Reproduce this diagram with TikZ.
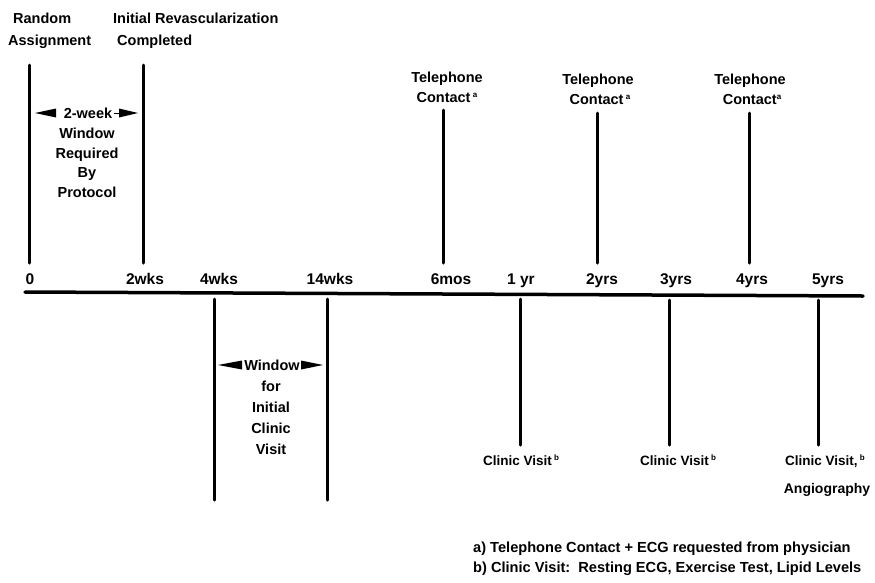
\documentclass[tikz,border=0pt]{standalone}
\usepackage{fontspec}
\setmainfont{Liberation Sans}
\usetikzlibrary{arrows.meta}
\newcommand{\sps}[1]{\raisebox{0.6ex}{\fontsize{8}{8}\selectfont #1}}
\begin{document}
\begin{tikzpicture}[x=1pt,y=-1pt,
  lbl/.style={font=\bfseries\fontsize{14.5}{16}\selectfont, inner sep=0pt, anchor=base},
  axlbl/.style={font=\bfseries\fontsize{15.5}{16}\selectfont, inner sep=0pt, anchor=base},
  cvlbl/.style={font=\bfseries\fontsize{13.5}{16}\selectfont, inner sep=0pt, anchor=base},
  foot/.style={font=\bfseries\fontsize{14.6}{16}\selectfont, inner sep=0pt, anchor=base west},
  tick/.style={line width=3pt, line cap=round},
  axisline/.style={line width=3.5pt, line cap=round},
  tri/.style={fill=black, draw=none}]
\useasboundingbox (0,0) rectangle (875,582);
% axis
\coordinate (axL) at (25,292);
\coordinate (axR) at (863,296);
\draw[axisline] (axL) -- (axR);
% upper ticks
\coordinate (r0t) at (29,65);  \coordinate (r0b) at (29,263);
\coordinate (r2t) at (143,65); \coordinate (r2b) at (143,263);
\coordinate (t6t) at (443,110); \coordinate (t6b) at (443,263);
\coordinate (t2t) at (597,113); \coordinate (t2b) at (597,263);
\coordinate (t4t) at (749,113); \coordinate (t4b) at (749,263);
\draw[tick] (r0t) -- (r0b);
\draw[tick] (r2t) -- (r2b);
\draw[tick] (t6t) -- (t6b);
\draw[tick] (t2t) -- (t2b);
\draw[tick] (t4t) -- (t4b);
% lower ticks
\coordinate (w4t) at (214,299); \coordinate (w4b) at (214,500);
\coordinate (w14t) at (327,299); \coordinate (w14b) at (327,500);
\coordinate (c1t) at (520,299); \coordinate (c1b) at (520,445);
\coordinate (c3t) at (669,300); \coordinate (c3b) at (669,445);
\coordinate (c5t) at (818,300); \coordinate (c5b) at (818,445);
\draw[tick] (w4t) -- (w4b);
\draw[tick] (w14t) -- (w14b);
\draw[tick] (c1t) -- (c1b);
\draw[tick] (c3t) -- (c3b);
\draw[tick] (c5t) -- (c5b);
% axis labels
\node[axlbl] (l0) at (30,284) {0};
\node[axlbl] (l2w) at (145,284) {2wks};
\node[axlbl] (l4w) at (219,284) {4wks};
\node[axlbl] (l14w) at (330,284) {14wks};
\node[axlbl] (l6m) at (451,284) {6mos};
\node[axlbl] (l1y) at (521,284) {1 yr};
\node[axlbl] (l2y) at (602,284) {2yrs};
\node[axlbl] (l3y) at (676,284) {3yrs};
\node[axlbl] (l4y) at (752,284) {4yrs};
\node[axlbl] (l5y) at (828,284) {5yrs};
% top labels
\node[lbl, anchor=base west] (ra1) at (13,23) {Random};
\node[lbl, anchor=base west] (ra2) at (8,45) {Assignment};
\node[lbl, anchor=base west] (ir1) at (113,23) {Initial Revascularization};
\node[lbl, anchor=base west] (ir2) at (117,45) {Completed};
% 2-week window
\node[lbl] (w1) at (88,118) {2-week};
\node[lbl] (w2) at (87,138) {Window};
\node[lbl] (w3) at (87,158) {Required};
\node[lbl] (w4) at (87,177) {By};
\node[lbl] (w5) at (87,197) {Protocol};
\fill[tri] (35,113) -- (56,108.5) -- (56,117.5) -- cycle;
\fill[tri] (138,113) -- (119,108.5) -- (119,117.5) -- cycle;
\draw[line width=0.8pt] (114,113.5) -- (120,113.5);
% telephone labels
\node[lbl] (tp1) at (447,82) {Telephone};
\node[lbl] (tc1) at (447,102) {Contact\,\sps{a}};
\node[lbl] (tp2) at (598,84) {Telephone};
\node[lbl] (tc2) at (600,104) {Contact\,\sps{a}};
\node[lbl] (tp3) at (750,84) {Telephone};
\node[lbl] (tc3) at (752,104) {Contact\sps{a}};
% window for initial clinic visit
\node[lbl] (v1) at (272,370) {Window};
\node[lbl] (v2) at (271,391) {for};
\node[lbl] (v3) at (271,412) {Initial};
\node[lbl] (v4) at (271,433) {Clinic};
\node[lbl] (v5) at (271,454) {Visit};
\fill[tri] (218,365) -- (242,360.5) -- (242,369.5) -- cycle;
\fill[tri] (323,365) -- (301,360.5) -- (301,369.5) -- cycle;
% clinic visits
\node[cvlbl] (cv1) at (521,465) {Clinic Visit\,\sps{b}};
\node[cvlbl] (cv3) at (678,465) {Clinic Visit\,\sps{b}};
\node[cvlbl, anchor=base west] (cv5) at (785,465) {Clinic Visit,\,\sps{b}};
\node[lbl, font=\bfseries\fontsize{14}{16}\selectfont] (ang) at (827,493) {Angiography};
% footnotes
\node[foot] (fa) at (473,552) {a) Telephone Contact + ECG requested from physician};
\node[foot] (fb) at (473,572) {b) Clinic Visit:\ \ Resting ECG, Exercise Test, Lipid Levels};
\end{tikzpicture}
\end{document}
